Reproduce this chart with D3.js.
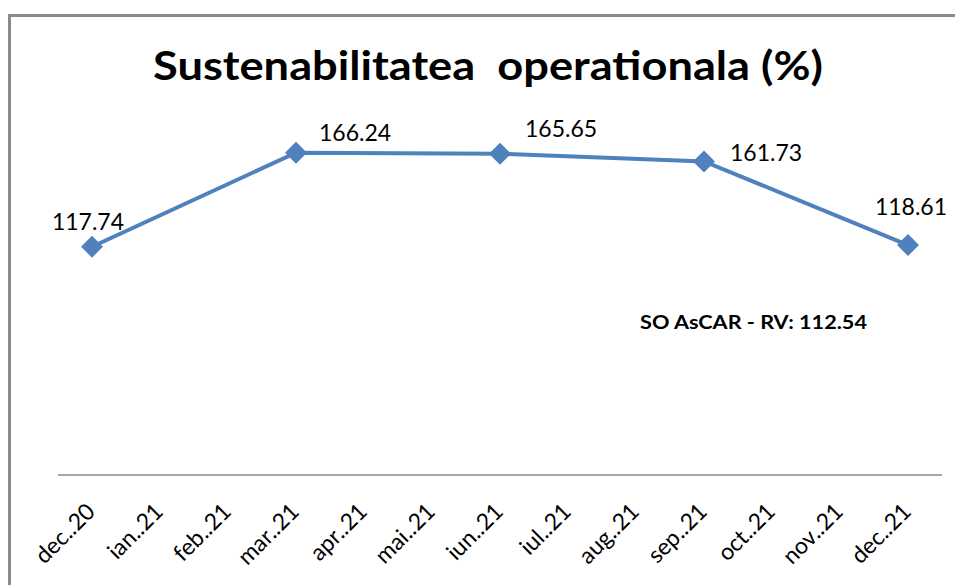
<!DOCTYPE html>
<html>
<head>
<meta charset="utf-8">
<script src="https://cdn.jsdelivr.net/npm/d3@7"></script>
<style>
  body { margin: 0; background: #fff; }
  svg { display: block; font-family: Lato, "Open Sans", sans-serif; }
</style>
</head>
<body>
<script>
const w = 955;
const h = 585;

// x categories (axis ticks)
const months = ["dec..20", "ian..21", "feb..21", "mar..21", "apr..21", "mai..21", "iun..21",
                "iul..21", "aug..21", "sep..21", "oct..21", "nov..21", "dec..21"];
// points of the series
const pointMonths = ["dec..20", "mar..21", "iun..21", "sep..21", "dec..21"];
const pointValues = [117.74, 166.24, 165.65, 161.73, 118.61];
const titleText = "Sustenabilitatea  operationala (%)";
const noteText = "SO AsCAR - RV: 112.54";

// label offsets per point (layout only)
const labelOffsets = [[-4, -17, "middle"], [23, -12, "start"], [25, -17, "start"], [26, 0, "start"], [3, -30, "middle"]];

const blue = "#4f81bd";

const svg = d3.select("body")
    .append("svg")
    .attr("width", w)
    .attr("height", h);

// outer chart border (runs off the page right and bottom)
svg.append("rect")
    .attr("x", 9.5)
    .attr("y", 15.5)
    .attr("width", 1000)
    .attr("height", 700)
    .attr("fill", "none")
    .attr("stroke", "#8a8a8a")
    .attr("stroke-width", 3);

svg.append("text")
    .attr("x", 153)
    .attr("y", 80)
    .attr("textLength", 670)
    .attr("lengthAdjust", "spacingAndGlyphs")
    .style("font-size", "40px")
    .style("font-weight", "bold")
    .style("white-space", "pre")
    .attr("fill", "#000")
    .text(titleText);

const xScale = d3.scalePoint()
    .domain(months)
    .range([58, 942])
    .padding(0.5);

const yScale = d3.scaleLinear()
    .domain([0, 180])
    .range([475, 126]);

const xAxis = d3.axisBottom(xScale).tickSize(0).tickPadding(0);

const gx = svg.append("g")
    .attr("id", "x-axis")
    .attr("transform", "translate(0," + 475 + ")")
    .call(xAxis);

gx.select(".domain")
    .attr("d", "M58,0H942")
    .attr("stroke", "#8a8a8a")
    .attr("stroke-width", 1.5);

gx.selectAll(".tick text")
    .attr("text-anchor", "end")
    .attr("dy", 0)
    .attr("y", 0)
    .attr("transform", "translate(4,38) rotate(-45)")
    .style("font-size", "23px")
    .style("font-family", "Lato, sans-serif")
    .attr("fill", "#000");

const points = pointMonths.map((m, i) => ({ m: m, v: pointValues[i], off: labelOffsets[i] }));

const line = d3.line()
    .x(d => xScale(d.m))
    .y(d => yScale(d.v));

svg.append("path")
    .datum(points)
    .attr("d", line)
    .attr("fill", "none")
    .attr("stroke", blue)
    .attr("stroke-width", 4);

svg.selectAll(".marker")
    .data(points)
    .enter()
    .append("path")
    .attr("class", "marker")
    .attr("d", d3.symbol().type(d3.symbolSquare).size(240))
    .attr("transform", d => "translate(" + xScale(d.m) + "," + yScale(d.v) + ") rotate(45)")
    .attr("fill", blue);

svg.selectAll(".label")
    .data(points)
    .enter()
    .append("text")
    .attr("class", "label")
    .attr("x", d => xScale(d.m) + d.off[0])
    .attr("y", d => yScale(d.v) + d.off[1])
    .attr("text-anchor", d => d.off[2])
    .style("font-size", "23px")
    .attr("fill", "#000")
    .text(d => d.v.toFixed(2));

svg.append("text")
    .attr("x", 640)
    .attr("y", 329)
    .attr("textLength", 227)
    .attr("lengthAdjust", "spacingAndGlyphs")
    .style("font-size", "19px")
    .style("font-weight", "bold")
    .attr("fill", "#000")
    .text(noteText);
</script>
</body>
</html>
